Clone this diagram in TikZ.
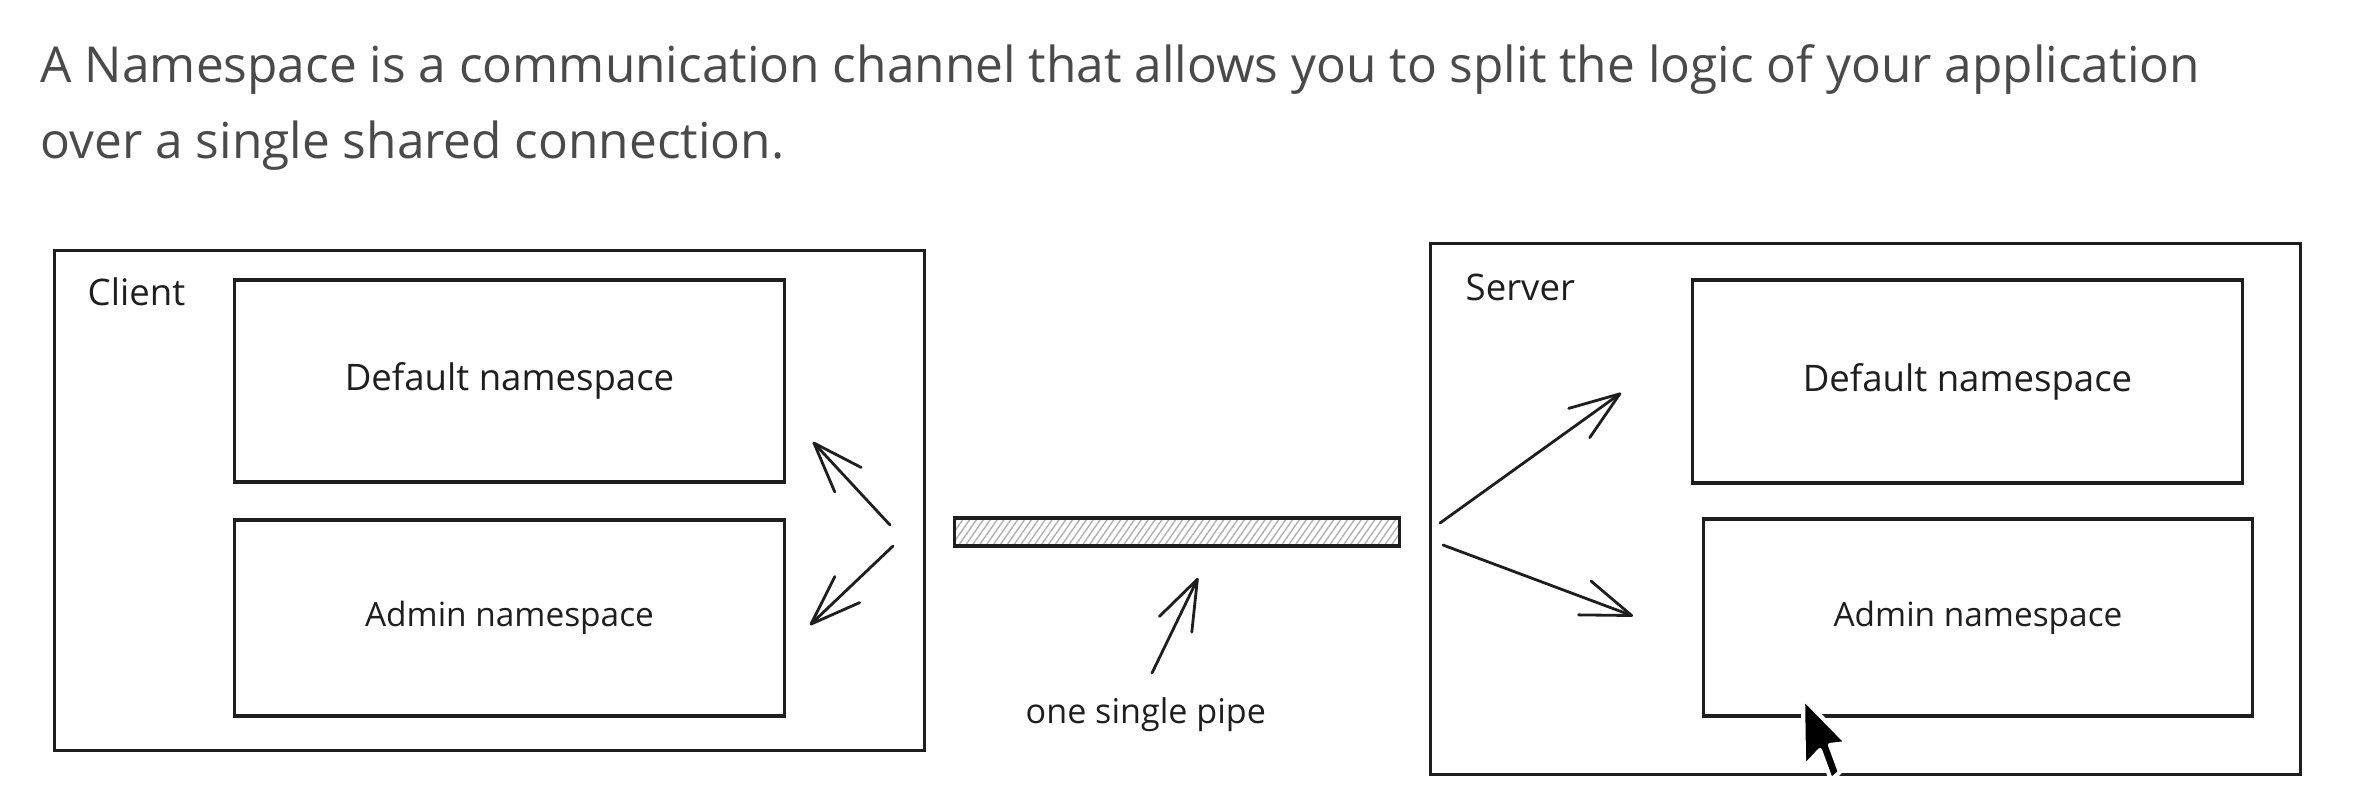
\documentclass[tikz,border=0pt]{standalone}
\usepackage{fontspec}
\setmainfont{Open Sans}
\usepackage{xcolor}
\usepackage{tikz}
\usetikzlibrary{positioning}
\usetikzlibrary{arrows.meta}
\usetikzlibrary{patterns.meta}
\definecolor{ink}{HTML}{1E1E1E}
\definecolor{prose}{HTML}{4A4A4A}
\definecolor{hatch}{HTML}{B0B0B0}

\begin{document}
\begin{tikzpicture}[x=0.01cm,y=-0.01cm,
	frame/.style={draw=ink,line width=0.9pt,inner sep=0pt},
	nsbox/.style={frame,minimum width=5.49cm,font=\fontsize{10.4}{12}\selectfont,text=ink},
	hand/.style={anchor=base west,inner sep=0pt,font=\fontsize{10.4}{12}\selectfont,text=ink},
	sketch/.style={-{Straight Barb[length=5mm,width=3.6mm,round]},draw=ink,line width=0.8pt,line cap=round},
	prosetext/.style={anchor=base west,inner sep=0pt,text=prose,font=\fontsize{14.1}{21}\selectfont}]
	\useasboundingbox (0,0) rectangle (2354,796);
	% text above the sketch
	\node[prosetext] (intro1) at (40,82) {A Namespace is a communication channel that allows you to split the logic of your application};
	\node[prosetext] (intro2) at (40,158) {over a single shared connection.};
	% client side
	\node[frame,minimum width=8.69cm,minimum height=4.99cm] (client) at (489.5,500.5) {};
	\node[hand] (clientlabel) at (87,305) {Client};
	\node[nsbox,minimum height=2.02cm] (cdefault) at (509.5,381) {Default namespace};
	\node[nsbox,minimum height=1.96cm,font=\fontsize{9.5}{12}\selectfont] (cadmin) at (509.5,618) {Admin namespace};
	\coordinate (cup0) at (890,525);
	\coordinate (cup1) at (813,442);
	\coordinate (cdown0) at (893,546);
	\coordinate (cdown1) at (810,625);
	\draw[sketch] (cup0) -- (cup1);
	\draw[sketch] (cdown0) -- (cdown1);
	% the pipe in between
	\node[frame,minimum width=4.44cm,minimum height=0.28cm,pattern={Lines[angle=55,distance=1.6pt,line width=0.4pt]},pattern color=hatch] (pipe) at (1177,532) {};
	\node[hand,font=\fontsize{9.7}{12}\selectfont] (pipelabel) at (1025,723) {one single pipe};
	\coordinate (pipe0) at (1152,673);
	\coordinate (pipe1) at (1198,578);
	\draw[sketch] (pipe0) -- (pipe1);
	% server side
	\node[frame,minimum width=8.69cm,minimum height=5.30cm] (server) at (1865.5,509) {};
	\node[hand] (serverlabel) at (1465,300) {Server};
	\node[nsbox,minimum height=2.03cm] (sdefault) at (1967.5,381.5) {Default namespace};
	\node[nsbox,minimum width=5.48cm,minimum height=1.97cm,font=\fontsize{9.5}{12}\selectfont] (sadmin) at (1978,617.5) {Admin namespace};
	\coordinate (sup0) at (1440,523);
	\coordinate (sup1) at (1621,393);
	\coordinate (sdown0) at (1443,545);
	\coordinate (sdown1) at (1633,616);
	\draw[sketch] (sup0) -- (sup1);
	\draw[sketch] (sdown0) -- (sdown1);
	% mouse pointer
	\filldraw[fill=black,draw=white,line width=1.2pt,line join=round] (1803,698) -- (1804,767) -- (1820,750) -- (1831,780) -- (1840,772) -- (1830,745) -- (1847,743) -- cycle;
\end{tikzpicture}
\end{document}
